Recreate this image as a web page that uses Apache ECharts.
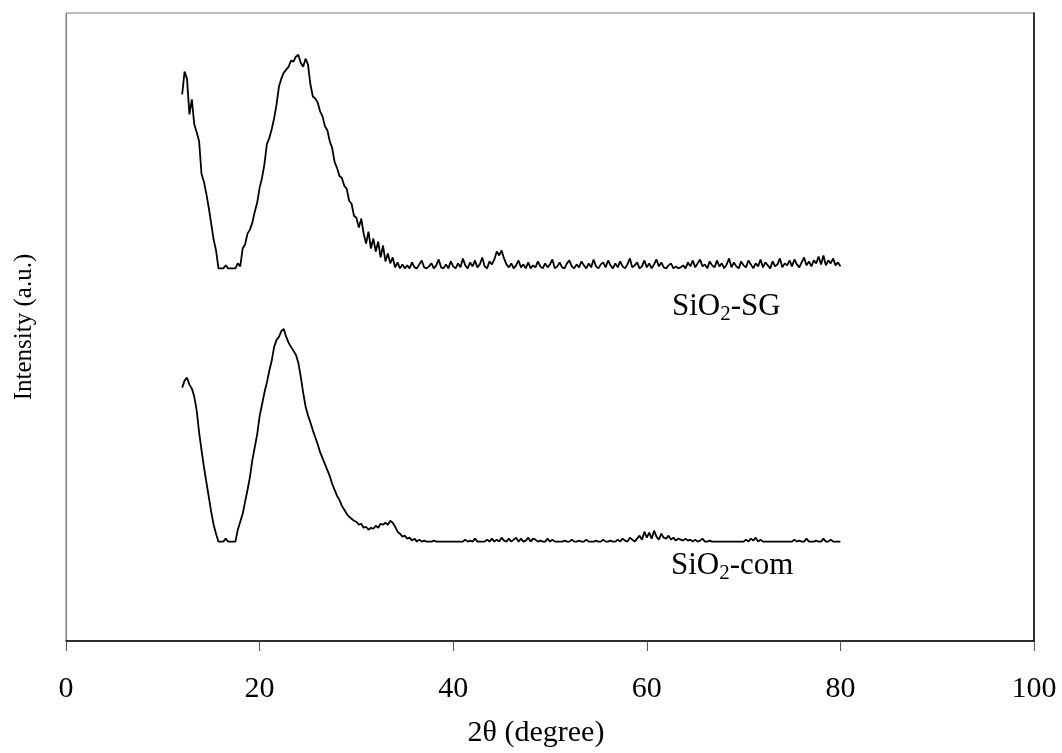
<!DOCTYPE html>
<html>
<head>
<meta charset="utf-8">
<title>XRD patterns of SiO2</title>
<script src="https://cdn.jsdelivr.net/npm/echarts@6/dist/echarts.min.js"></script>
<style>
  html, body { margin: 0; padding: 0; background: #fff; }
  #chart { width: 1062px; height: 753px; }
</style>
</head>
<body>
<div id="chart"></div>
<script>
// Scan settings: 2θ from 12° in 0.25° steps up to 80°
const thetaStart = 12;
const thetaStep = 0.25;

// Axis ticks
const xTicks = [0, 20, 40, 60, 80, 100];

// Intensity (a.u.), stacked with an offset so both patterns share one plot
const sgIntensity = [
  550, 573, 566, 530,
  545, 520, 512, 503,
  470, 462, 450, 436,
  420, 404, 393, 375,
  375, 375, 378, 375,
  375, 375, 375, 380,
  377, 395, 399, 410,
  414, 421, 432, 441,
  456, 466, 480, 500,
  506, 515, 526, 540,
  558, 566, 572, 575,
  578, 584, 583, 588,
  590, 582, 578, 586,
  580, 560, 548, 546,
  542, 533, 528, 518,
  514, 503, 496, 482,
  476, 468, 466, 458,
  455, 443, 440, 428,
  426, 416, 425, 410,
  400, 412, 395, 405,
  392, 402, 386, 398,
  382, 390, 380, 386,
  376, 381, 375, 379,
  375, 378, 375, 381,
  376, 375, 379, 383,
  376, 375, 377, 380,
  375, 378, 384, 376,
  375, 379, 375, 382,
  377, 375, 380, 376,
  385, 378, 375, 381,
  377, 383, 376, 379,
  386, 377, 375, 382,
  379, 384, 392, 388,
  393, 385, 379, 376,
  380, 375, 378, 383,
  376, 379, 375, 381,
  375, 378, 376, 382,
  377, 375, 380, 376,
  379, 384, 375, 377,
  381, 376, 375, 380,
  383, 377, 375, 379,
  376, 382, 378, 375,
  380, 376, 384, 377,
  375, 379, 381, 376,
  383, 378, 375, 380,
  376, 382, 377, 375,
  379, 385, 376, 378,
  381, 375, 377, 383,
  376, 380, 375, 379,
  384, 377, 381, 376,
  375, 378, 380, 375,
  377, 375, 376, 378,
  375, 381, 377, 383,
  376, 380, 384, 377,
  379, 375, 382, 378,
  376, 383, 377, 380,
  375, 379, 385, 376,
  381, 377, 375, 382,
  378, 376, 383, 379,
  375, 380, 377, 384,
  376, 381, 378, 375,
  382, 377, 379, 385,
  376, 380, 378, 383,
  377, 384, 379, 376,
  381, 386, 378, 382,
  377, 383, 380, 387,
  379, 388, 378, 383,
  380, 385, 378, 381,
  377
];

const comIntensity = [
  255, 262, 265, 258,
  254, 246, 232, 210,
  192, 175, 160, 145,
  130, 117, 108, 100,
  100, 100, 103, 100,
  100, 100, 100, 112,
  120, 128, 140, 152,
  165, 182, 195, 208,
  226, 238, 250, 260,
  272, 282, 296, 303,
  306, 312, 314, 306,
  300, 296, 292, 288,
  280, 266, 250, 236,
  227, 220, 212, 205,
  198, 190, 184, 178,
  172, 166, 158, 152,
  146, 142, 136, 132,
  128, 125, 123, 121,
  120, 117, 118, 114,
  115, 112, 114, 113,
  116, 114, 118, 117,
  119, 117, 121, 119,
  115, 110, 108, 105,
  106, 103, 104, 101,
  103, 100, 102, 100,
  101, 100, 100, 100,
  101, 100, 100, 100,
  100, 100, 100, 100,
  100, 100, 100, 100,
  100, 102, 100, 101,
  100, 103, 100, 100,
  100, 100, 102, 100,
  103, 100, 102, 100,
  104, 101, 100, 103,
  100, 102, 104, 100,
  103, 100, 101, 104,
  100, 103, 102, 100,
  101, 100, 100, 103,
  100, 102, 100, 100,
  100, 100, 101, 100,
  100, 102, 100, 100,
  101, 100, 100, 102,
  100, 100, 100, 101,
  100, 100, 102, 100,
  100, 101, 100, 100,
  102, 100, 103, 101,
  100, 104, 102, 100,
  103, 106, 102, 110,
  104, 109, 103, 111,
  105, 102, 108, 104,
  103, 106, 102, 104,
  101, 103, 102, 101,
  103, 101, 102, 100,
  102, 100, 101, 103,
  100, 100, 101, 100,
  100, 100, 100, 100,
  100, 100, 100, 100,
  100, 100, 100, 100,
  100, 102, 100, 103,
  101, 104, 100, 102,
  100, 100, 100, 100,
  100, 100, 100, 100,
  100, 100, 100, 100,
  100, 102, 100, 101,
  100, 100, 103, 100,
  100, 100, 101, 100,
  100, 103, 100, 100,
  102, 100, 100, 100,
  100
];

const serif = "'Liberation Serif', 'Times New Roman', serif";

function toPairs(values) {
  return values.map((v, i) => [thetaStart + i * thetaStep, v]);
}

const chart = echarts.init(document.getElementById('chart'), null, { renderer: 'canvas' });

// Sample labels with a subscript "2"
const labelRich = {
  a: { fontFamily: serif, fontSize: 31, color: '#000', lineHeight: 36 },
  b: { fontFamily: serif, fontSize: 21, color: '#000', lineHeight: 22, verticalAlign: 'bottom' }
};

chart.setOption({
  animation: false,
  backgroundColor: '#fff',
  grid: {
    left: 66, right: 28, top: 13, bottom: 108,
    show: true, borderColor: '#7f7f7f', borderWidth: 1, backgroundColor: 'transparent'
  },
  xAxis: {
    type: 'value',
    min: xTicks[0],
    max: xTicks[xTicks.length - 1],
    interval: xTicks[1] - xTicks[0],
    name: '2θ (degree)',
    nameLocation: 'middle',
    nameGap: 77,
    nameTextStyle: { fontFamily: serif, fontSize: 30, color: '#000', padding: [0, 28, 0, 0] },
    axisLine: { show: true, lineStyle: { color: '#000', width: 1.5 } },
    axisTick: { show: true, inside: false, length: 10, lineStyle: { color: '#555', width: 1 } },
    axisLabel: { fontFamily: serif, fontSize: 30, color: '#000', margin: 33 },
    splitLine: { show: false }
  },
  yAxis: [
    {
      type: 'value',
      min: 0,
      max: 632,
      name: 'Intensity (a.u.)',
      nameLocation: 'middle',
      nameGap: 29,
      nameTextStyle: { fontFamily: serif, fontSize: 25, color: '#000' },
      axisLine: { show: true, lineStyle: { color: '#7f7f7f', width: 1 } },
      axisTick: { show: false },
      axisLabel: { show: false },
      splitLine: { show: false }
    },
    {
      type: 'value',
      min: 0,
      max: 632,
      position: 'right',
      axisLine: { show: true, lineStyle: { color: '#000', width: 1.5 } },
      axisTick: { show: false },
      axisLabel: { show: false },
      splitLine: { show: false }
    }
  ],
  series: [
    {
      name: 'SiO2-SG',
      type: 'line',
      data: toPairs(sgIntensity),
      showSymbol: false,
      lineStyle: { color: '#000', width: 1.8 },
      silent: true
    },
    {
      name: 'SiO2-com',
      type: 'line',
      data: toPairs(comIntensity),
      showSymbol: false,
      lineStyle: { color: '#000', width: 1.8 },
      silent: true
    }
  ],
  graphic: [
    {
      type: 'text',
      left: 672,
      top: 291,
      style: { text: '{a|SiO}{b|2}{a|-SG}', rich: labelRich }
    },
    {
      type: 'text',
      left: 671,
      top: 550,
      style: { text: '{a|SiO}{b|2}{a|-com}', rich: labelRich }
    }
  ]
});
</script>
</body>
</html>
